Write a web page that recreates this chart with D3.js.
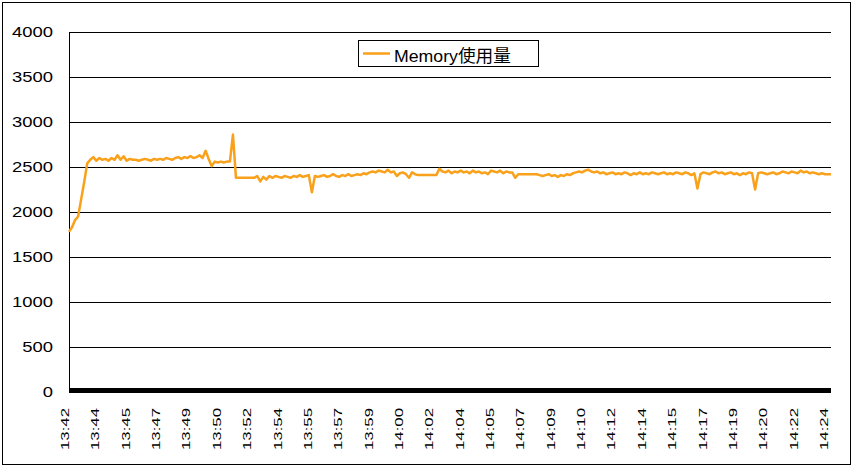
<!DOCTYPE html>
<html>
<head>
<meta charset="utf-8">
<script src="https://cdn.jsdelivr.net/npm/d3@7"></script>
<style>
body{margin:0;background:#fff}
svg{display:block;font-family:"Liberation Sans","Noto Sans CJK JP",sans-serif}
</style>
</head>
<body>
<svg id="chart" width="853" height="468"></svg>
<script>
// Memory use (MB), one sample every 10 seconds from 13:42:30
var memory = [
  1780, 1830, 1910, 1950, 2140, 2330, 2540, 2580, 2610, 2570,
  2600, 2580, 2590, 2570, 2600, 2580, 2630, 2580, 2620, 2570,
  2590, 2580, 2580, 2570, 2580, 2590, 2580, 2570, 2590, 2580,
  2590, 2580, 2600, 2590, 2580, 2600, 2610, 2590, 2610, 2600,
  2620, 2600, 2610, 2630, 2600, 2680, 2590, 2510, 2560, 2550,
  2560, 2550, 2560, 2560, 2860, 2380, 2380, 2380, 2380, 2380,
  2380, 2380, 2400, 2340, 2390, 2360, 2400, 2380, 2400, 2390,
  2380, 2400, 2390, 2380, 2400, 2390, 2410, 2390, 2400, 2410,
  2220, 2400, 2390, 2400, 2410, 2390, 2400, 2420, 2400, 2390,
  2410, 2400, 2420, 2400, 2410, 2420, 2410, 2430, 2420, 2440,
  2450, 2440, 2460, 2450, 2440, 2470, 2440, 2450, 2400, 2430,
  2440, 2420, 2380, 2440, 2420, 2410, 2410, 2410, 2410, 2410,
  2410, 2410, 2480, 2450, 2440, 2460, 2430, 2450, 2440, 2460,
  2440, 2450, 2430, 2460, 2440, 2450, 2430, 2440, 2420, 2460,
  2450, 2440, 2460, 2430, 2450, 2440, 2440, 2380, 2420, 2420,
  2420, 2420, 2420, 2420, 2420, 2410, 2400, 2410, 2420, 2400,
  2410, 2390, 2410, 2400, 2420, 2410, 2430, 2440, 2450, 2440,
  2460, 2470, 2450, 2440, 2450, 2430, 2440, 2420, 2430, 2440,
  2420, 2430, 2420, 2440, 2430, 2410, 2430, 2420, 2440, 2420,
  2430, 2420, 2440, 2430, 2420, 2430, 2440, 2420, 2430, 2420,
  2440, 2430, 2420, 2440, 2430, 2410, 2430, 2260, 2420, 2440,
  2430, 2420, 2440, 2450, 2430, 2440, 2420, 2430, 2440, 2420,
  2430, 2410, 2430, 2420, 2440, 2430, 2250, 2430, 2440, 2430,
  2420, 2430, 2440, 2420, 2430, 2450, 2440, 2430, 2450, 2440,
  2430, 2460, 2440, 2450, 2430, 2440, 2430, 2420, 2430, 2420,
  2420, 2420
];
var tickLabels = ["13:42","13:44","13:45","13:47","13:49","13:50","13:52","13:54","13:55",
  "13:57","13:59","14:00","14:02","14:04","14:05","14:07","14:09","14:10","14:12","14:14",
  "14:15","14:17","14:19","14:20","14:22","14:24"];
var labelStep = 10; // one label every 10 samples
var yTicks = [0, 500, 1000, 1500, 2000, 2500, 3000, 3500, 4000];
var seriesName = "Memory使用量";

var svgWidth = 853, svgHeight = 468;
var margin = {top: 32, right: 22, bottom: 76, left: 69};
var width = svgWidth - margin.left - margin.right;
var height = svgHeight - margin.top - margin.bottom;
var lineColor = "#f9a11b";

var svg = d3.select("#chart");

// outer frame
svg.append("rect")
    .attr("x", 2.5).attr("y", 2.5)
    .attr("width", 848).attr("height", 462)
    .attr("fill", "#fff").attr("stroke", "#000");

var chartGroup = svg.append("g")
    .attr("transform", `translate(${margin.left}, ${margin.top})`);

var xScale = d3.scalePoint()
    .domain(d3.range(memory.length))
    .range([0, width]);
var yScale = d3.scaleLinear()
    .domain([0, 4000])
    .range([height, 0]);

// gridlines
chartGroup.selectAll("line.grid")
    .data(yTicks.filter(d => d > 0))
    .enter().append("line")
    .attr("class", "grid")
    .attr("x1", 0).attr("x2", width)
    .attr("y1", d => Math.round(yScale(d)) + 0.5)
    .attr("y2", d => Math.round(yScale(d)) + 0.5)
    .attr("stroke", "#000");

// left axis line
chartGroup.append("line")
    .attr("x1", 0.5).attr("x2", 0.5)
    .attr("y1", 0).attr("y2", height)
    .attr("stroke", "#000");

// y labels
chartGroup.selectAll("text.ylab")
    .data(yTicks)
    .enter().append("text")
    .attr("class", "ylab")
    .attr("x", -16)
    .attr("y", d => yScale(d))
    .attr("dy", "0.36em")
    .attr("text-anchor", "end")
    .attr("font-size", 14)
    .attr("textLength", d => String(d).length * 10.25)
    .attr("lengthAdjust", "spacingAndGlyphs")
    .text(d => d);

// memory line
var line = d3.line()
    .x((d, i) => xScale(i))
    .y(d => yScale(d));
chartGroup.append("path")
    .datum(memory)
    .attr("d", line)
    .attr("fill", "none")
    .attr("stroke", lineColor)
    .attr("stroke-width", 2.5)
    .attr("stroke-linejoin", "round");

// thick category axis
chartGroup.append("rect")
    .attr("x", 0).attr("y", height - 4)
    .attr("width", width).attr("height", 5)
    .attr("fill", "#000");

// x labels
chartGroup.selectAll("text.xlab")
    .data(tickLabels)
    .enter().append("text")
    .attr("class", "xlab")
    .attr("transform", (d, k) => `translate(${xScale(k * labelStep)}, ${height + 16}) rotate(-90)`)
    .attr("text-anchor", "end")
    .attr("font-size", 11)
    .attr("textLength", 42)
    .attr("lengthAdjust", "spacingAndGlyphs")
    .text(d => d);

// legend
var legend = svg.append("g").attr("transform", "translate(358, 40)");
legend.append("rect")
    .attr("x", 0.5).attr("y", 0.5)
    .attr("width", 180).attr("height", 26)
    .attr("fill", "#fff").attr("stroke", "#000");
legend.append("line")
    .attr("x1", 5).attr("x2", 32)
    .attr("y1", 13.5).attr("y2", 13.5)
    .attr("stroke", lineColor).attr("stroke-width", 2.5);
legend.append("text")
    .attr("x", 36).attr("y", 22)
    .attr("font-size", 17)
    .attr("textLength", 117)
    .attr("lengthAdjust", "spacingAndGlyphs")
    .text(seriesName);
</script>
</body>
</html>
